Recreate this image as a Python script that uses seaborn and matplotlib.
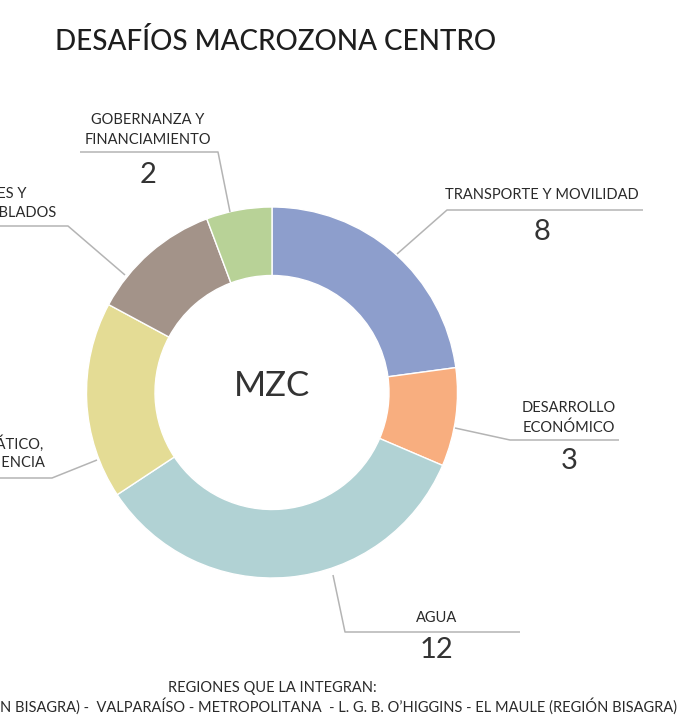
import matplotlib
matplotlib.use("Agg")
import matplotlib.pyplot as plt
import seaborn as sns

# ---- data ----
categories = ["TRANSPORTE Y MOVILIDAD", "DESARROLLO ECONÓMICO", "AGUA",
              "CAMBIO CLIMÁTICO, RESILIENCIA", "CIUDADES Y POBLADOS",
              "GOBERNANZA Y FINANCIAMIENTO"]
values = [8, 3, 12, 6, 4, 2]
colors = ["#8d9ecc", "#f8ae7f", "#b1d2d4", "#e4dc95", "#a39389", "#b8d297"]
title = "DESAFÍOS MACROZONA CENTRO"
center_label = "MZC"
footer_title = "REGIONES QUE LA INTEGRAN:"
footer_regions = ("COQUIMBO (REGIÓN BISAGRA) -  VALPARAÍSO - METROPOLITANA  - "
                  "L. G. B. O’HIGGINS - EL MAULE (REGIÓN BISAGRA)")

sns.set_theme(style="white")
plt.rcParams["font.family"] = ["Lato", "DejaVu Sans"]

W, H = 682, 720
fig = plt.figure(figsize=(W / 100, H / 100), dpi=100)
ax = fig.add_axes([0, 0, 1, 1])

def Y(y):
    return H - y

cx, cy, R, r_in = 272, 392.5, 185.5, 117
ax.pie(values, colors=colors, startangle=90, counterclock=False,
       center=(cx, Y(cy)), radius=R,
       wedgeprops=dict(width=R - r_in, edgecolor="white", linewidth=1.0))
ax.set_xlim(0, W)
ax.set_ylim(0, H)
ax.set_aspect("equal")
ax.axis("off")

txt = "#2a2a2a"
lc = "#b4b4b4"
FS = 10.5

def line(xs, ys):
    ax.plot(xs, [Y(v) for v in ys], color=lc, lw=1.1, solid_capstyle="butt")

def label(x, lines_, y0, dy, val, vy):
    for i, s in enumerate(lines_):
        ax.text(x, Y(y0 + i * dy), s, ha="center", va="center", fontsize=FS,
                color=txt)
    ax.text(x, Y(vy), str(val), ha="center", va="center", fontsize=21,
            color="#333333")

# title
ax.text(55, Y(42), title, ha="left", va="center", fontsize=20,
        color="#1e1e1e", fontweight="medium")
# center
ax.text(cx, Y(386), center_label, ha="center", va="center", fontsize=25,
        color="#333333")

# Transporte
label(542, ["TRANSPORTE Y MOVILIDAD"], 195, 0, values[0], 232)
line([643, 447, 397], [210, 210, 254])
# Desarrollo
label(569, ["DESARROLLO", "ECONÓMICO"], 408, 19.5, values[1], 461)
line([619, 510, 455], [440, 440, 428])
# Agua
label(437, ["AGUA"], 618, 0, values[2], 650)
line([520, 345, 333], [632, 632, 575])
# Gobernanza
label(148, ["GOBERNANZA Y", "FINANCIAMIENTO"], 120, 19.5, values[5], 175)
line([80, 218, 230], [152, 152, 212])
# Ciudades (cut off at left, as in the reference)
for s, yy, xe in [("CIUDADES Y", 194, 26), ("POBLADOS", 213, 57)]:
    ax.text(xe, Y(yy), s, ha="right", va="center", fontsize=FS, color=txt)
line([-5, 68, 125], [226, 226, 275])
# Cambio climático (cut off at left, as in the reference)
for s, yy, xe in [("CAMBIO CLIMÁTICO,", 444, 43), ("RESILIENCIA", 463, 45)]:
    ax.text(xe, Y(yy), s, ha="right", va="center", fontsize=FS, color=txt)
line([-5, 52, 97], [478, 478, 460])

# footer
ax.text(272, Y(688), footer_title, ha="center", va="center", fontsize=10.5,
        color=txt)
ax.text(677, Y(706), footer_regions, ha="right", va="center", fontsize=10.5,
        color=txt)

fig.savefig("out.png", dpi=100, facecolor="white")
